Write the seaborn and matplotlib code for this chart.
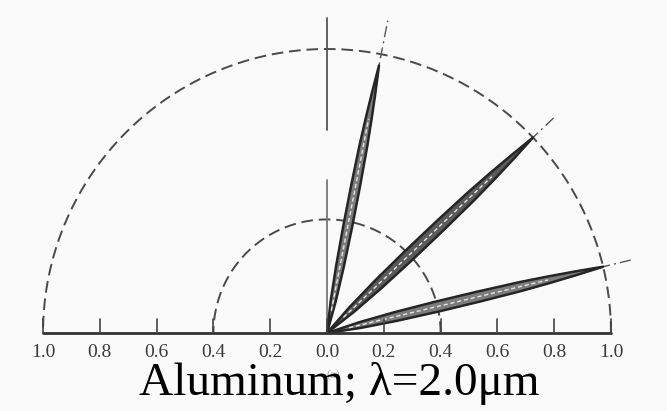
import numpy as np
import pandas as pd
import matplotlib
matplotlib.use("Agg")
import matplotlib.pyplot as plt
import seaborn as sns

# ---- data ----
lobe_angles_deg = [79.0, 43.5, 13.5]      # direction of each reflection lobe (deg from +x axis)
lobe_peaks = [0.96, 1.00, 1.00]           # relative intensity at lobe peak
lobe_width_scale = [1.3, 1.6, 1.45]       # angular spread of each lobe
lobe_fill = ["#7c7c7c", "#5a5a5a", "#7c7c7c"]
# one-sided lobe profile (offset from lobe axis in deg -> relative value)
profile_offsets = [0.0, 0.3, 0.6, 0.9, 1.3, 1.8, 2.5, 3.4, 4.6]
profile_values = [1.0, 0.9, 0.8, 0.7, 0.55, 0.4, 0.25, 0.12, 0.0]
ref_circle_radii = [0.4, 1.0]
guide_length = [1.12, 1.10, 1.10]
tick_positions = [-1.0, -0.8, -0.6, -0.4, -0.2, 0.0, 0.2, 0.4, 0.6, 0.8, 1.0]
tick_labels = ["1.0", "0.8", "0.6", "0.4", "0.2", "0.0", "0.2", "0.4", "0.6", "0.8", "1.0"]
title_text = "Aluminum; λ=2.0μm"

sns.set_theme(style="white")
plt.rcParams["font.family"] = ["Liberation Serif", "DejaVu Serif"]

W, H = 667, 411
fig = plt.figure(figsize=(W / 100, H / 100), dpi=100, facecolor="#fafafa")
ax = fig.add_axes([0, 0, 1, 1])
ax.set_facecolor("#fafafa")
ppu = 284.0
ox, oy = 327.0, 78.0
ax.set_xlim(-ox / ppu, (W - ox) / ppu)
ax.set_ylim(-oy / ppu, (H - oy) / ppu)
ax.axis("off")

# reference semicircles
for r in ref_circle_radii:
    t = np.linspace(0, np.pi, 200)
    df = pd.DataFrame({"x": r * np.cos(t), "y": r * np.sin(t)})
    sns.lineplot(data=df, x="x", y="y", sort=False, ax=ax, color="#4a4a4a",
                 lw=1.4, linestyle=(0, (6, 3)), estimator=None)

# vertical normal line (with faded gap as in the scan)
ax.plot([0, 0], [0, 0.54], color="#777777", lw=1.3)
ax.plot([0, 0], [0.715, 1.11], color="#555555", lw=1.3)

# dash-dot lobe axes
for ang, L in zip(lobe_angles_deg, guide_length):
    a = np.deg2rad(ang)
    ax.plot([0, L * np.cos(a)], [0, L * np.sin(a)], color="#555555", lw=1.0,
            linestyle=(0, (8, 3, 1.5, 3)))

# lobes
off = np.array(profile_offsets)
val = np.array(profile_values)
full_off = np.concatenate([-off[::-1], off[1:]])
full_val = np.concatenate([val[::-1], val[1:]])
for ang, pk, sc, fc in zip(lobe_angles_deg, lobe_peaks, lobe_width_scale, lobe_fill):
    th = np.deg2rad(ang + full_off * sc)
    r = pk * full_val
    xs = np.concatenate([[0], r * np.cos(th), [0]])
    ys = np.concatenate([[0], r * np.sin(th), [0]])
    ax.fill(xs, ys, color=fc, zorder=3)
    df = pd.DataFrame({"x": xs, "y": ys})
    sns.lineplot(data=df, x="x", y="y", sort=False, ax=ax, color="#262626",
                 lw=1.8, estimator=None, zorder=4)
    a = np.deg2rad(ang)
    ax.plot([0.08 * np.cos(a), 0.8 * pk * np.cos(a)],
            [0.08 * np.sin(a), 0.8 * pk * np.sin(a)],
            color="#e6e6e6", lw=1.0, linestyle=(0, (3, 2)), zorder=5)

# baseline with ticks
ax.plot([-1.0, 1.0], [0, 0], color="#333333", lw=2.0, zorder=6)
for tp in tick_positions:
    ax.plot([tp, tp], [0, 0.05], color="#444444", lw=1.2, zorder=6)
for tp, lab in zip(tick_positions, tick_labels):
    ax.text(tp, -0.067, lab, ha="center", va="center", fontsize=14,
            color="#3a3a3a")

ax.text(0.023, -0.15, "(a)", ha="center", va="center", fontsize=9, color="#b0b0b0")
ax.text(0.042, -0.218, title_text, ha="center", va="baseline", fontsize=34,
        color="black")

fig.savefig("out.png", dpi=100, facecolor=fig.get_facecolor())
